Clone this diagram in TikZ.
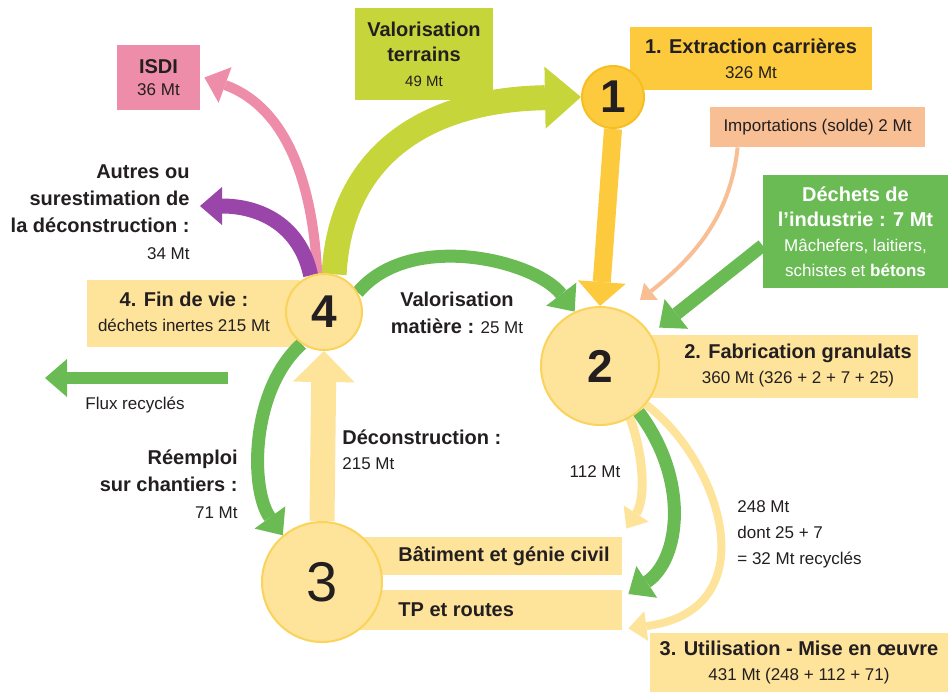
\documentclass[tikz,border=0pt]{standalone}
\usepackage{fontspec}
\setmainfont{Liberation Sans}
\usepackage{xcolor}
\definecolor{ink}{HTML}{231F20}
\definecolor{pale}{HTML}{FEE39B}
\definecolor{paleline}{HTML}{F9D35A}
\definecolor{quarry}{HTML}{FCCA3C}
\definecolor{quarryline}{HTML}{F6BE22}
\definecolor{terrain}{HTML}{C6D63A}
\definecolor{landfill}{HTML}{EE8DA9}
\definecolor{other}{HTML}{9A45A9}
\definecolor{recyc}{HTML}{6BBB55}
\definecolor{imports}{HTML}{F8BF95}
\usepackage{tikz}
\usetikzlibrary{arrows.meta, backgrounds}
\newcommand{\bigb}[1]{{\fontsize{10}{12}\selectfont\bfseries #1}}
\tikzset{
  txt/.style={font=\fontsize{8.5}{12.5}\selectfont, text=ink, align=center, inner sep=0pt},
  box/.style={txt, rectangle},
  band/.style={rectangle, fill=pale, inner sep=0pt},
  stage/.style={circle, fill=pale, draw=paleline, line width=1pt, inner sep=0pt, text=ink},
  flowbig/.style={line width=12.5pt, -{Triangle[length=18pt, width=31pt, line width=0pt]}},
  flowmid/.style={line width=6.5pt, -{Triangle[length=11pt, width=19pt, line width=0pt]}},
  flowslim/.style={line width=4.5pt, -{Triangle[length=9pt, width=15pt, line width=0pt]}},
  flowhair/.style={line width=2pt, -{Triangle[length=7pt, width=11pt, line width=0pt]}},
}

\begin{document}
\begin{tikzpicture}[x=0.5pt, y=-0.5pt,
    num/.style={font=\fontsize{23}{23}\selectfont\bfseries}]
  \useasboundingbox (0,0) rectangle (948,692);

  % The four stages of the cycle.
  \node[stage, num, fill=quarry, draw=quarryline, minimum size=31pt] (c1) at (613,97) {1};
  \node[stage, num, minimum size=59pt] (c2) at (600,366) {2};
  \node[stage, font=\fontsize{28}{28}\selectfont, minimum size=60pt] (c3) at (322,582) {3};
  \node[stage, num, minimum size=38pt] (c4) at (324,312) {4};

  % Labels outside the boxes.
  \node[txt] (fin) at (184,312) {\bigb{4. Fin de vie :}\\déchets inertes 215 Mt};
  \node[txt] (fab) at (798,366) {\bigb{2. Fabrication granulats}\\360 Mt (326 + 2 + 7 + 25)};
  \node[txt, anchor=west] (batt) at (398,556) {\bigb{Bâtiment et génie civil}};
  \node[txt, anchor=west] (tpt) at (398,610) {\bigb{TP et routes}};
  \node[txt, font=\fontsize{8.5}{13.5}\selectfont, align=right, anchor=east] (autres) at (190,212)
    {\bigb{Autres ou}\\\bigb{surestimation de}\\\bigb{la déconstruction :}\\34 Mt};
  \node[txt, font=\fontsize{8.5}{13.5}\selectfont] (vm) at (457,313) {\bigb{Valorisation}\\\bigb{matière :} 25 Mt};
  \node[txt, font=\fontsize{8.5}{13.5}\selectfont, align=right, anchor=east] (reemp) at (238,484)
    {\bigb{Réemploi}\\\bigb{sur chantiers :}\\71 Mt};
  \node[txt, align=left, anchor=west] (decon) at (342,450) {\bigb{Déconstruction :}\\215 Mt};
  \node[txt] (m112) at (595,472) {112 Mt};
  \node[txt, font=\fontsize{8.5}{13}\selectfont, align=left, anchor=west] (m248) at (737,534)
    {248 Mt\\dont 25 + 7\\= 32 Mt recyclés};
  \node[txt] (flux) at (135,405) {Flux recyclés};
  \coordinate (fluxA) at (228,378);
  \coordinate (fluxB) at (45,378);

  \begin{scope}[on background layer]
    % Boxes.
    \node[box, fill=terrain, minimum width=69pt, minimum height=46pt] (vt) at (424,54)
      {\bigb{Valorisation}\\\bigb{terrains}\\{\fontsize{7.5}{9}\selectfont 49 Mt}};
    \node[box, fill=landfill, font=\fontsize{8.5}{11}\selectfont, minimum width=41.5pt, minimum height=32.5pt] (isdi)
      at (158.5,77.5) {\bigb{ISDI}\\36 Mt};
    \node[box, fill=quarry, minimum width=121pt, minimum height=31.5pt] (extr) at (751,58.5)
      {\bigb{1. Extraction carrières}\\326 Mt};
    \node[box, fill=imports, minimum width=107.5pt, minimum height=20pt] (impo) at (817.5,127)
      {Importations (solde) 2 Mt};
    \node[box, fill=recyc, text=white, minimum width=92.5pt, minimum height=56.5pt] (indus) at (855.5,231.5)
      {\bigb{Déchets de}\\\bigb{l'industrie : 7 Mt}\\Mâchefers, laitiers,\\schistes et \textbf{bétons}};
    \node[band, minimum width=106.5pt, minimum height=33.5pt] (finbox) at (193.5,313.5) {};
    \node[band, minimum width=136.5pt, minimum height=31.5pt] (fabbox) at (781.5,366.5) {};
    \node[band, minimum width=150pt, minimum height=19pt] (bat) at (472,556) {};
    \node[band, minimum width=150pt, minimum height=20pt] (tp) at (472,610) {};
    \node[box, fill=pale, minimum width=149pt, minimum height=29.5pt] (util) at (799,662.5)
      {\bigb{3. Utilisation - Mise en œuvre}\\431 Mt (248 + 112 + 71)};

    % Flows out of stage 4.
    \draw[flowbig, draw=terrain] (c4.75) .. controls (340,160) and (420,100) .. (c1.west);
    \draw[flowmid, line width=5pt, draw=landfill] (c4.100) .. controls (312,170) and (280,105) .. ([xshift=2pt]isdi.east);
    \draw[flowmid, line width=7.5pt, draw=other] (c4.110) .. controls (300,225) and (260,206) .. ([shift={(5pt,3pt)}]autres.east);
    \draw[flowmid, draw=recyc] (c4.30) .. controls (410,230) and (535,260) .. (c2.115);
    \draw[flowmid, draw=recyc] (c4.235) .. controls (250,390) and (250,490) .. (c3.130);

    % Flows into stage 2.
    \draw[line width=9pt, draw=quarry, -{Triangle[length=12pt, width=24pt, line width=0pt]}] (c1.south) -- (c2.north);
    \draw[flowhair, draw=imports] ([xshift=14pt]impo.south west) .. controls (730,220) and (690,260) .. ([shift={(20pt,3pt)}]c2.north);
    \draw[flowmid, draw=recyc] ([yshift=-7pt]indus.west) -- ([shift={(5pt,2pt)}]c2.35);

    % Flows out of stage 2 and back up from stage 3.
    \draw[flowslim, draw=pale] (c2.-60) .. controls (645,460) and (645,500) .. ([shift={(2pt,4pt)}]bat.north east);
    \draw[flowmid, draw=recyc] (c2.-50) .. controls (690,480) and (680,560) .. ([shift={(3pt,8pt)}]tp.east);
    \draw[flowslim, line width=4pt, draw=pale] (c2.-40) .. controls (720,460) and (770,610) .. ([shift={(3pt,1pt)}]tp.south east);
    \draw[flowbig, draw=pale, -{Triangle[length=15.5pt, width=31pt, line width=0pt]}] (c3.north) -- (c4.south);

    % Legend.
    \draw[flowmid, line width=6pt, draw=recyc] (fluxA) -- (fluxB);
  \end{scope}
\end{tikzpicture}
\end{document}
